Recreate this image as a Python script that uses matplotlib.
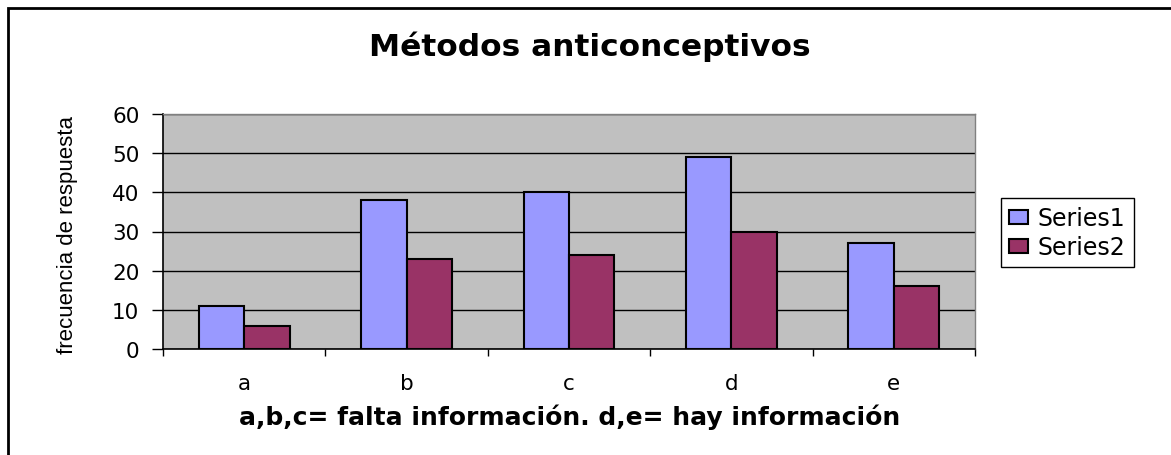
import numpy as np
import matplotlib
matplotlib.use("Agg")
import matplotlib.pyplot as plt
from matplotlib.patches import Rectangle

categories = ["a", "b", "c", "d", "e"]
series1 = [11, 38, 40, 49, 27]
series2 = [6, 23, 24, 30, 16]
series_names = ["Series1", "Series2"]
yticks = [0, 10, 20, 30, 40, 50, 60]

W, H = 1171, 456
fig = plt.figure(figsize=(W / 100, H / 100), dpi=100)
fig.patch.set_facecolor("white")

# plot area in pixel terms
left, right, top, bottom = 163, 975, 115, 350
ax = fig.add_axes([left / W, 1 - bottom / H, (right - left) / W, (bottom - top) / H])
ax.set_facecolor("#C0C0C0")

x = np.arange(len(categories)) + 0.5
w = 0.28
ax.bar(x - w / 2, series1, w, color="#9999FF", edgecolor="black", linewidth=1.5,
       label=series_names[0], zorder=3)
ax.bar(x + w / 2, series2, w, color="#993366", edgecolor="black", linewidth=1.5,
       label=series_names[1], zorder=3)

ax.set_xlim(0, len(categories))
ax.set_ylim(0, 60)
ax.set_yticks(yticks)
ax.set_yticklabels([str(v) for v in yticks], fontsize=15.5, family="DejaVu Sans")
ax.yaxis.grid(True, color="black", linewidth=1.0, zorder=0)
ax.set_axisbelow(True)
ax.tick_params(axis="y", direction="out", length=8, width=1.0, pad=9)

# boundary ticks on x, labels at category centres
ax.set_xticks(np.arange(len(categories) + 1))
ax.set_xticklabels([])
ax.set_xticks(x, minor=True)
ax.set_xticklabels(categories, minor=True, fontsize=15.5, family="DejaVu Sans")
ax.tick_params(axis="x", which="major", direction="out", length=5, width=1.0)
ax.tick_params(axis="x", which="minor", length=0, pad=17)

for s in ["left", "bottom"]:
    ax.spines[s].set_color("black")
    ax.spines[s].set_linewidth(1.2)
for s in ["top", "right"]:
    ax.spines[s].set_color("#808080")
    ax.spines[s].set_linewidth(1.0)

fig.text(590 / W, 1 - 47 / H, "Métodos anticonceptivos", ha="center", va="center",
         fontsize=22.5, fontweight="bold", family="DejaVu Sans")
fig.text(570 / W, 1 - 417 / H, "a,b,c= falta información. d,e= hay información",
         ha="center", va="center", fontsize=18, fontweight="bold", family="DejaVu Sans")
fig.text(68 / W, 1 - 235 / H, "frecuencia de respuesta", rotation=90,
         ha="center", va="center", fontsize=16, family="Liberation Sans")

fig.legend(loc="upper left", bbox_to_anchor=(1001 / W, 1 - 199 / H),
           bbox_transform=fig.transFigure, borderaxespad=0,
           prop={"family": "DejaVu Sans", "size": 17},
           frameon=True, fancybox=False, edgecolor="black", framealpha=1,
           handlelength=0.8, handleheight=0.55, handletextpad=0.4,
           borderpad=0.35, labelspacing=0.2)

# outer chart frame (only top and left edges are visible)
fig.patches.append(Rectangle((8 / W, -0.1), 2, 1 - 9 / H + 0.1, transform=fig.transFigure,
                             fill=False, edgecolor="black", linewidth=2.0, clip_on=False))

fig.savefig("out.png", dpi=100)
